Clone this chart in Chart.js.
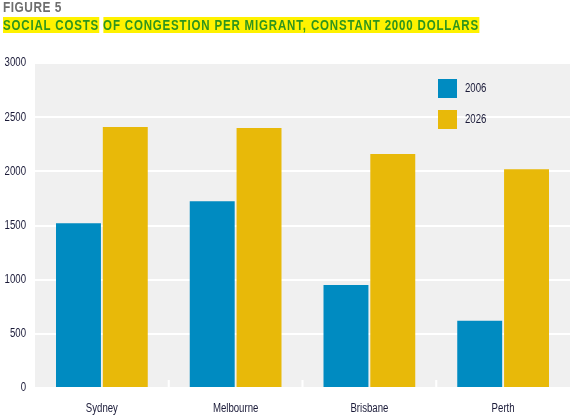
<!DOCTYPE html>
<html>
<head>
<meta charset="utf-8">
<script src="https://cdn.jsdelivr.net/npm/chart.js@4/dist/chart.umd.min.js"></script>
<style>
  html, body { margin: 0; padding: 0; background: #fff; }
  #wrap { position: relative; width: 570px; height: 420px; }
  #title { position: absolute; left: 3px; top: -2px; font-family: "Liberation Sans", Arial, sans-serif; font-weight: bold; white-space: nowrap; }
  #fig { color: #6e6e6e; font-size: 14px; line-height: 15px; letter-spacing: 0.6px; transform-origin: 0 0; display: inline-block; }
  #sub { margin-top: 2px; color: #2f951c; font-size: 14px; line-height: 15px; letter-spacing: 1px; transform-origin: 0 0; display: inline-block; }
  #sub span { background: #fff200; }
  canvas { position: absolute; left: 0; top: 0; }
</style>
</head>
<body>
<div id="wrap">
  <canvas id="costChart" width="570" height="420"></canvas>
  <div id="title">
    <div id="fig">FIGURE 5</div><br>
    <div id="sub"><span>SOCIAL COSTS</span> <span>OF CONGESTION PER MIGRANT, CONSTANT 2000 DOLLARS</span></div>
  </div>
</div>
<script>
const cities = ['Sydney', 'Melbourne', 'Brisbane', 'Perth'];
const cost2006 = [1520, 1725, 950, 620];
const cost2026 = [2410, 2400, 2160, 2020];
const yTicks = [0, 500, 1000, 1500, 2000, 2500, 3000];

const inkColor = '#1a1a38';
const labelFont = '12.5px "Liberation Sans", Arial, sans-serif';
const squeeze = 0.77; // the original uses a condensed face

// squeeze the headline to the original's width
function fitWidth(el, target) {
    el.style.transform = 'scaleX(' + (target / el.getBoundingClientRect().width) + ')';
}
fitWidth(document.getElementById('fig'), 59);
fitWidth(document.getElementById('sub'), 476);

function condensedText(ctx, text, x, y, align) {
    ctx.save();
    ctx.translate(x, y);
    ctx.scale(squeeze, 1);
    ctx.textAlign = align;
    ctx.textBaseline = 'middle';
    ctx.fillText(text, 0, 0);
    ctx.restore();
}

// grey panel, tick notches, labels and the legend inside the plot
const panelPlugin = {
    id: 'panel',
    beforeDraw(chart) {
        const { ctx, chartArea } = chart;
        ctx.save();
        ctx.fillStyle = '#f0f0f0';
        ctx.fillRect(chartArea.left, chartArea.top, chartArea.right - chartArea.left, chartArea.bottom - chartArea.top);
        ctx.restore();
    },
    beforeDatasetsDraw(chart) {
        const { ctx, chartArea, scales } = chart;
        ctx.save();
        ctx.fillStyle = '#ffffff';
        for (let i = 0; i < cities.length - 1; i++) {
            const x = (scales.x.getPixelForValue(i) + scales.x.getPixelForValue(i + 1)) / 2;
            ctx.fillRect(x - 1, chartArea.bottom - 8, 2, 8);
        }
        ctx.restore();
    },
    afterDatasetsDraw(chart) {
        const { ctx, chartArea, scales } = chart;
        ctx.save();
        ctx.font = labelFont;
        ctx.fillStyle = inkColor;
        scales.y.ticks.forEach(t => {
            condensedText(ctx, String(t.value), chartArea.left - 9, scales.y.getPixelForValue(t.value), 'right');
        });
        cities.forEach((c, i) => {
            condensedText(ctx, c, scales.x.getPixelForValue(i), chartArea.bottom + 21, 'center');
        });
        chart.data.datasets.forEach((ds, i) => {
            const y = 79 + i * 31;
            ctx.fillStyle = ds.backgroundColor;
            ctx.fillRect(438, y, 19, 19);
            ctx.fillStyle = inkColor;
            condensedText(ctx, ds.label, 465, y + 10, 'left');
        });
        ctx.restore();
    }
};

new Chart(document.getElementById('costChart'), {
    type: 'bar',
    data: {
        labels: cities,
        datasets: [
            {
                label: '2006',
                data: cost2006,
                backgroundColor: '#008bc1',
                categoryPercentage: 0.7,
                barPercentage: 0.96
            },
            {
                label: '2026',
                data: cost2026,
                backgroundColor: '#e8b909',
                categoryPercentage: 0.7,
                barPercentage: 0.96
            }
        ]
    },
    options: {
        responsive: false,
        animation: false,
        layout: { padding: { top: 63, right: 0, bottom: 0, left: 0 } },
        plugins: {
            legend: { display: false },
            tooltip: { enabled: false }
        },
        scales: {
            y: {
                min: 0,
                max: 3000,
                afterFit(scale) { scale.width = 35; },
                afterBuildTicks(scale) { scale.ticks = yTicks.map(v => ({ value: v })); },
                grid: { color: '#ffffff', lineWidth: 2, drawTicks: false },
                border: { display: false },
                ticks: { display: false }
            },
            x: {
                afterFit(scale) { scale.height = 32; },
                grid: { display: false, drawTicks: false },
                border: { display: false },
                ticks: { display: false }
            }
        }
    },
    plugins: [panelPlugin]
});
</script>
</body>
</html>
